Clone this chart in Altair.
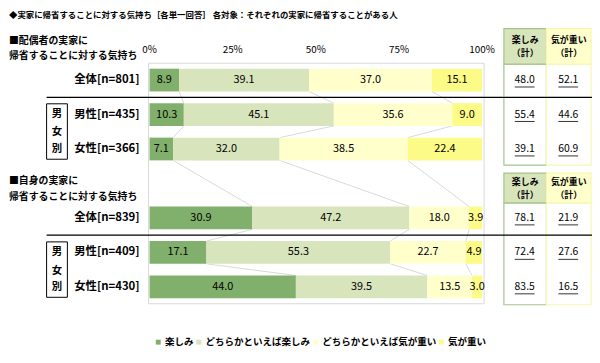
import altair as alt
import pandas as pd

# ---------------- data ----------------
categories = ["楽しみ", "どちらかといえば楽しみ", "どちらかといえば気が重い", "気が重い"]
colors = ["#80b06b", "#d8e4bc", "#ffffcc", "#fcfb88"]

row_labels = ["全体[n=801]", "男性[n=435]", "女性[n=366]",
              "全体[n=839]", "男性[n=409]", "女性[n=430]"]
row_slots = [0, 1, 2, 4, 5, 6]

v_tanoshimi = [8.9, 10.3, 7.1, 30.9, 17.1, 44.0]
v_dochira_tanoshimi = [39.1, 45.1, 32.0, 47.2, 55.3, 39.5]
v_dochira_omoi = [37.0, 35.6, 38.5, 18.0, 22.7, 13.5]
v_omoi = [15.1, 9.0, 22.4, 3.9, 4.9, 3.0]

total_tanoshimi = ["48.0", "55.4", "39.1", "78.1", "72.4", "83.5"]
total_omoi = ["52.1", "44.6", "60.9", "21.9", "27.6", "16.5"]

tick_values = [0, 25, 50, 75, 100]
tick_labels = ["0%", "25%", "50%", "75%", "100%"]

FONT = "Noto Sans CJK JP"
HALF = 0.33

# ---------------- tables ----------------
series = [v_tanoshimi, v_dochira_tanoshimi, v_dochira_omoi, v_omoi]
bar_rows = []
bounds = {}
for i, slot in enumerate(row_slots):
    vals = [s[i] for s in series]
    tot = sum(vals)
    cum = 0.0
    b = []
    for k, (c, v) in enumerate(zip(categories, vals)):
        start = cum / tot * 100
        cum += v
        end = cum / tot * 100
        bar_rows.append(dict(slot=slot, cat=c, order=k, value=v, label=f"{v:.1f}",
                             start=start, end=end, mid=(start + end) / 2,
                             ytop=slot - HALF, ybot=slot + HALF))
        b.append(end)
    bounds[slot] = b
bars_df = pd.DataFrame(bar_rows)

conn_rows = []
for a, b in zip(row_slots[:-1], row_slots[1:]):
    for k in range(3):
        conn_rows.append(dict(xa=bounds[a][k], xb=bounds[b][k], ya=a + HALF, yb=b - HALF))
conn_df = pd.DataFrame(conn_rows)

rows_df = pd.DataFrame(dict(slot=row_slots, label=row_labels,
                            t1=total_tanoshimi, t2=total_omoi))
ticks_df = pd.DataFrame(dict(v=tick_values, t=tick_labels))
sep_df = pd.DataFrame(dict(s=[0.5, 4.5]))
dummy = pd.DataFrame({"a": [0]})

xs = alt.Scale(domain=[0, 100], range=[143, 479], nice=False, zero=False)
ys = alt.Scale(domain=[-0.5, 6.5], range=[53.6, 297.4], nice=False, zero=False)

OX = 8  # page margin offset


def txt(t, x, y, size, bold=True, align="left", color="#000000"):
    return alt.Chart(dummy).mark_text(
        font=FONT, fontSize=size, fontWeight="bold" if bold else "normal",
        align=align, baseline="middle", color=color
    ).encode(x=alt.value(x - OX), y=alt.value(y - OX), text=alt.value(t))


def box(x1, x2, y1, y2, fill="transparent", stroke="#000000", sw=1.0):
    return alt.Chart(dummy).mark_rect(fill=fill, stroke=stroke, strokeWidth=sw).encode(
        x=alt.value(x1 - OX), x2=alt.value(x2 - OX),
        y=alt.value(y1 - OX), y2=alt.value(y2 - OX))


layers = []

# plot panel
layers.append(box(150, 489, 62, 305, fill="#ffffff", stroke="#d9d9d9", sw=1))

# connector lines
layers.append(alt.Chart(conn_df).mark_rule(color="#c8c8c8", strokeWidth=0.7).encode(
    x=alt.X("xa:Q", scale=xs, axis=None), x2="xb:Q",
    y=alt.Y("ya:Q", scale=ys, axis=None), y2="yb:Q"))

# bars
layers.append(alt.Chart(bars_df).mark_bar(strokeWidth=0).encode(
    x=alt.X("start:Q", scale=xs, axis=None), x2="end:Q",
    y=alt.Y("ytop:Q", scale=ys, axis=None), y2="ybot:Q",
    color=alt.Color("cat:N", scale=alt.Scale(domain=categories, range=colors),
                    legend=alt.Legend(
                        title=None, orient="none", direction="horizontal",
                        legendX=155 - OX, legendY=339 - OX, gridAlign="none",
                        symbolType="square", symbolSize=25, symbolStrokeWidth=0,
                        labelFont=FONT, labelFontSize=9.6, labelFontWeight="bold",
                        labelColor="#000000", labelOffset=2, columnPadding=0)),
    order="order:Q"))

# bar labels
layers.append(alt.Chart(bars_df).mark_text(font=FONT, fontSize=11, color="#000000",
                                          baseline="middle").encode(
    x=alt.X("mid:Q", scale=xs), y=alt.Y("slot:Q", scale=ys), text="label:N"))

# axis tick labels
layers.append(alt.Chart(ticks_df).mark_text(font=FONT, fontSize=10, color="#000000",
                                           baseline="middle").encode(
    x=alt.X("v:Q", scale=xs), y=alt.value(49 - OX), text="t:N"))

# row labels
layers.append(alt.Chart(rows_df).mark_text(font=FONT, fontSize=11.5, fontWeight="bold",
                                          color="#000000", align="right",
                                          baseline="middle").encode(
    x=alt.value(141 - OX), y=alt.Y("slot:Q", scale=ys), text="label:N"))

# right-hand total boxes
for (h1, h2, b2) in [(27, 63, 165), (173, 203, 306)]:
    layers.append(box(509, 552, h2, b2, fill="#ffffff", stroke="#a3c48c", sw=1.2))
    layers.append(box(552, 597, h2, b2, fill="#ffffff", stroke="#f7f7b0", sw=1.2))
    layers.append(box(509, 552, h1, h2, fill="#d8e4bc", stroke="#a3c48c", sw=1.2))
    layers.append(box(552, 597, h1, h2, fill="#ffffcc", stroke="#f7f7b0", sw=1.2))
    mid = (h1 + h2) / 2
    layers.append(txt("楽しみ", 530.5, mid - 6, 9, align="center"))
    layers.append(txt("（計）", 530.5, mid + 7, 9, align="center"))
    layers.append(txt("気が重い", 574.5, mid - 6, 9, align="center"))
    layers.append(txt("（計）", 574.5, mid + 7, 9, align="center"))

# totals + underline
for col, cx in [("t1", 530), ("t2", 574)]:
    layers.append(alt.Chart(rows_df).mark_text(font=FONT, fontSize=10.5, color="#000000",
                                              baseline="middle").encode(
        x=alt.value(cx - OX), y=alt.Y("slot:Q", scale=ys), text=f"{col}:N"))
    layers.append(alt.Chart(rows_df).mark_rule(color="#000000", strokeWidth=0.8,
                                              yOffset=7).encode(
        x=alt.value(cx - 10 - OX), x2=alt.value(cx + 10 - OX),
        y=alt.Y("slot:Q", scale=ys)))

# separators
layers.append(alt.Chart(sep_df).mark_rule(color="#000000", strokeWidth=1.2).encode(
    x=alt.value(47 - OX), x2=alt.value(600 - OX), y=alt.Y("s:Q", scale=ys)))

# 男女別 boxes
for dy in [0, 139.5]:
    layers.append(box(47, 68, 103 + dy, 159 + dy, fill="#ffffff", stroke="#000000", sw=1))
    for ch, yy in [("男", 113), ("女", 132), ("別", 149)]:
        layers.append(txt(ch, 57.5, yy + dy, 10.5, align="center"))

# titles
layers.append(txt("◆実家に帰省することに対する気持ち［各単一回答］ 各対象：それぞれの実家に帰省することがある人",
                  9, 13, 8.5))
layers.append(txt("■配偶者の実家に", 9, 40, 10))
layers.append(txt("帰省することに対する気持ち", 9, 55, 10))
layers.append(txt("■自身の実家に", 9, 181, 10))
layers.append(txt("帰省することに対する気持ち", 9, 197, 10))

chart = alt.layer(*layers).properties(
    width=590, height=347,
    autosize=alt.AutoSizeParams(type="none"), padding=0
).configure_view(stroke=None)

chart.save("out.html", embed_options={"renderer": "svg", "actions": False})
